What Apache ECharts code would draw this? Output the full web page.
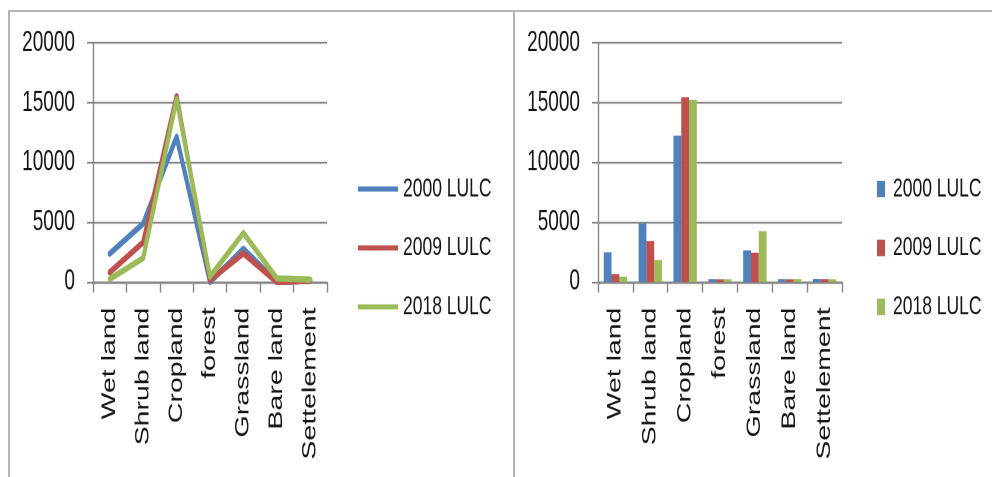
<!DOCTYPE html>
<html>
<head>
<meta charset="utf-8">
<script src="https://cdn.jsdelivr.net/npm/echarts@6/dist/echarts.min.js"></script>
<style>
  html, body { margin: 0; padding: 0; background: #ffffff; }
  #wrap { position: relative; width: 992px; height: 477px; overflow: hidden; background: #fff; }
  #chart { position: absolute; left: 0; top: 0; width: 992px; height: 318px; transform: scaleY(1.5); transform-origin: 0 0; }
  .bl { position: absolute; background: #b4b4b4; }
</style>
</head>
<body>
<div id="wrap">
  <div id="chart"></div>
  <div class="bl" style="left:9px;top:10px;width:983px;height:2px;"></div>
  <div class="bl" style="left:8px;top:10px;width:2px;height:467px;"></div>
  <div class="bl" style="left:513px;top:10px;width:2px;height:467px;"></div>
</div>
<script>
// ---- data ----
const categories = ['Wet land', 'Shrub land', 'Cropland', 'forest', 'Grassland', 'Bare land', 'Settelement'];
const seriesNames = ['2000 LULC', '2009 LULC', '2018 LULC'];
const yTicks = [0, 5000, 10000, 15000, 20000];

// line chart (left panel)
const line2000 = [2370, 4890, 12150, 0, 2770, 0, 100];
const line2009 = [810, 3320, 15550, 150, 2400, 0, 100];
const line2018 = [250, 2000, 15300, 450, 4100, 300, 200];

// bar chart (right panel)
const bar2000 = [2490, 4890, 12260, 240, 2650, 240, 250];
const bar2009 = [670, 3440, 15470, 230, 2460, 230, 240];
const bar2018 = [450, 1840, 15250, 230, 4250, 240, 230];

const colors = ['#4F81BD', '#C0504D', '#9BBB59'];

const FONT = 'Liberation Sans';
const gridColor = '#878787';

function yAxis(idx) {
  return {
    type: 'value', gridIndex: idx, min: yTicks[0], max: yTicks[yTicks.length - 1], interval: yTicks[1] - yTicks[0],
    axisLine: { show: true, lineStyle: { color: gridColor, width: 1.4 } },
    axisTick: { show: true, inside: false, length: 6, lineStyle: { color: gridColor, width: 1.2 } },
    splitLine: { show: true, lineStyle: { color: gridColor, width: 1.2 } },
    axisLabel: { margin: 18, fontFamily: FONT, fontSize: 19, color: '#151515', formatter: v => String(v) }
  };
}
function xAxis(idx) {
  return {
    type: 'category', gridIndex: idx, data: categories, boundaryGap: true,
    axisLine: { show: true, lineStyle: { color: gridColor, width: 1.4 } },
    axisTick: { show: true, alignWithLabel: false, length: 7, lineStyle: { color: gridColor, width: 1.4 } },
    axisLabel: { rotate: 90, interval: 0, margin: 17, fontFamily: FONT, fontSize: 19, color: '#151515' }
  };
}

const lineData = [line2000, line2009, line2018];
const barData = [bar2000, bar2009, bar2018];

const series = [];
seriesNames.forEach((n, i) => {
  series.push({
    name: n, type: 'line', xAxisIndex: 0, yAxisIndex: 0, data: lineData[i],
    showSymbol: false, symbol: 'none', color: colors[i],
    lineStyle: { width: 4.2, color: colors[i], join: 'round', cap: 'round' },
    animation: false
  });
});
seriesNames.forEach((n, i) => {
  series.push({
    name: n + ' ', type: 'bar', xAxisIndex: 1, yAxisIndex: 1, data: barData[i],
    color: colors[i], itemStyle: { color: colors[i] },
    barGap: '0%', barCategoryGap: '33%', animation: false
  });
});

const chart = echarts.init(document.getElementById('chart'), null, { renderer: 'canvas', devicePixelRatio: 2 });
chart.setOption({
  backgroundColor: 'transparent',
  animation: false,
  grid: [
    { left: 93, top: 28.7, width: 234, height: 159.3, containLabel: false },
    { left: 598, top: 28.7, width: 244, height: 159.3, containLabel: false }
  ],
  xAxis: [xAxis(0), xAxis(1)],
  yAxis: [yAxis(0), yAxis(1)],
  legend: [
    {
      data: seriesNames, orient: 'vertical', left: 353, top: 112, itemGap: 21.3,
      icon: 'rect', itemWidth: 40, itemHeight: 3.4,
      textStyle: { fontFamily: FONT, fontSize: 17.5, color: '#151515' },
      selectedMode: false
    },
    {
      data: seriesNames.map(n => n + ' '), orient: 'vertical', left: 872, top: 112, itemGap: 21.3,
      icon: 'rect', itemWidth: 8, itemHeight: 11,
      textStyle: { fontFamily: FONT, fontSize: 17.5, color: '#151515', padding: [0, 0, 0, 3] },
      selectedMode: false
    }
  ],
  series: series
});
</script>
</body>
</html>
